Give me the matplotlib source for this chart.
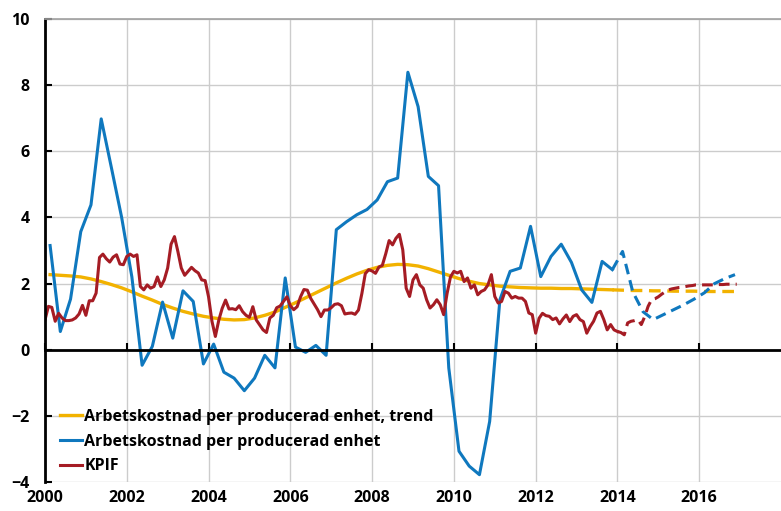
import numpy as np
import matplotlib
matplotlib.use('Agg')
import matplotlib.pyplot as plt

plt.rcParams['font.family'] = ['Open Sans', 'DejaVu Sans']
plt.rcParams['font.weight'] = 'bold'

# Arbetskostnad per producerad enhet (kvartal), utfall och prognos
alp = [3.15, 0.55, 1.53, 3.57,
       4.38, 6.98, 5.5, 4.0,
       2.2, -0.47, 0.1, 1.44,
       0.35, 1.78, 1.46, -0.43,
       0.17, -0.68, -0.86, -1.24,
       -0.86, -0.17, -0.55, 2.17,
       0.08, -0.08, 0.13, -0.17,
       3.63, 3.87, 4.08, 4.24,
       4.53, 5.08, 5.19, 8.39,
       7.35, 5.24, 4.96, -0.55,
       -3.07, -3.52, -3.78, -2.17,
       1.51, 2.37, 2.47, 3.73,
       2.21, 2.82, 3.19, 2.64,
       1.81, 1.43, 2.67, 2.42]
alp_prognos = [2.42, 2.97, 1.75, 1.15, 0.91, 1.06, 1.21, 1.36, 1.53,
               1.72, 2.0, 2.15, 2.27]

# Trend (kvartal)
trend = [2.27, 2.25, 2.23, 2.2,
         2.14, 2.06, 1.97, 1.87,
         1.75, 1.62, 1.5, 1.37,
         1.26, 1.16, 1.08, 1.01,
         0.96, 0.92, 0.9, 0.91,
         0.96, 1.04, 1.14, 1.28,
         1.42, 1.57, 1.72, 1.87,
         2.02, 2.16, 2.29, 2.4,
         2.49, 2.55, 2.58, 2.57,
         2.53, 2.45, 2.35, 2.25,
         2.15, 2.07, 2.0, 1.96,
         1.92, 1.9, 1.88, 1.87,
         1.86, 1.86, 1.85, 1.85,
         1.84, 1.83, 1.82, 1.81]
trend_prognos = [1.81, 1.8, 1.79, 1.79, 1.78, 1.78, 1.77, 1.77, 1.77,
                 1.76, 1.76, 1.76, 1.76]

# KPIF (månad), jan 2000 - jan 2014, sedan prognos
kpif = [0.9, 1.31, 1.28, 0.86, 1.1, 0.96, 0.88, 0.88, 0.9, 0.96, 1.08, 1.34,
        1.04, 1.48, 1.48, 1.71, 2.79, 2.89, 2.75, 2.65, 2.8, 2.87, 2.59, 2.57,
        2.82, 2.89, 2.82, 2.87, 1.91, 1.81, 1.96, 1.86, 1.91, 2.2, 1.91, 2.11,
        2.47, 3.19, 3.42, 2.97, 2.47, 2.25, 2.37, 2.49, 2.39, 2.32, 2.11, 2.09,
        1.6, 0.86, 0.4, 0.89, 1.25, 1.5, 1.23, 1.24, 1.21, 1.33, 1.15, 1.04,
        0.98, 1.3, 0.9, 0.75, 0.6, 0.52, 0.96, 1.04, 1.27, 1.32, 1.46, 1.6,
        1.33, 1.21, 1.3, 1.6, 1.82, 1.8, 1.55, 1.38, 1.21, 1.0, 1.2, 1.2,
        1.27, 1.37, 1.39, 1.33, 1.08, 1.1, 1.11, 1.07, 1.2, 1.7, 2.3, 2.42,
        2.38, 2.31, 2.5, 2.55, 2.9, 3.3, 3.17, 3.37, 3.49, 3.02, 1.86, 1.61,
        2.11, 2.27, 1.96, 1.86, 1.51, 1.26, 1.36, 1.51, 1.36, 1.06, 1.7, 2.2,
        2.37, 2.32, 2.37, 2.06, 2.17, 1.86, 1.96, 1.66, 1.76, 1.81, 1.96, 2.27,
        1.61, 1.41, 1.46, 1.76, 1.71, 1.56, 1.61, 1.56, 1.56, 1.46, 1.11, 1.06,
        0.5, 0.95, 1.1, 1.03, 1.01, 0.91, 0.96, 0.78, 0.93, 1.05, 0.85, 1.01,
        1.06, 0.91, 0.85, 0.5, 0.7, 0.86, 1.11, 1.16, 0.91, 0.6, 0.76, 0.6,
        0.55]
kpif_prognos = [0.55, 0.52, 0.45, 0.81, 0.86, 0.88, 0.91, 0.76, 1.0, 1.31,
                1.51, 1.54, 1.6, 1.68, 1.75, 1.81, 1.84, 1.86, 1.88, 1.89,
                1.91, 1.93, 1.94, 1.96, 1.96, 1.96, 1.96, 1.96, 1.96, 1.97,
                1.97, 1.97, 1.98, 1.98, 1.98, 1.98]

ar = [2000, 2002, 2004, 2006, 2008, 2010, 2012, 2014, 2016]

# tidsaxlar i decimalår
q_x = 2000.125 + 0.25 * np.arange(len(alp))
q_px = q_x[-1] + 0.25 * np.arange(len(alp_prognos))
m_x = 2000 + np.arange(len(kpif)) / 12
m_px = m_x[-1] + np.arange(len(kpif_prognos)) / 12

orange = '#F2B200'
blue = '#0F78BE'
red = '#A51C24'

fig = plt.figure(figsize=(7.81, 5.11), dpi=100)
ax = fig.add_axes([0.0576, 0.0568, 0.9424, 0.906])

ax.plot(q_x, trend, color=orange, lw=2.4, label='Arbetskostnad per producerad enhet, trend')
ax.plot(q_px, trend_prognos, color=orange, lw=2.4, dashes=(3.5, 2))
ax.plot(q_x, alp, color=blue, lw=2.2, label='Arbetskostnad per producerad enhet')
ax.plot(q_px, alp_prognos, color=blue, lw=2.2, dashes=(3.5, 2))
ax.plot(m_x, kpif, color=red, lw=2.2, label='KPIF')
ax.plot(m_px, kpif_prognos, color=red, lw=2.2, dashes=(3.5, 2))

ax.set_xlim(2000, 2018)
ax.set_ylim(-4, 10)
ax.set_yticks(range(-4, 11, 2))
ax.set_xticks(ar)
ax.grid(True, color='#cccccc', lw=1.0)
ax.set_axisbelow(True)

ax.spines['right'].set_visible(False)
ax.spines['top'].set_color('#a0a0a0')
ax.spines['top'].set_linewidth(1.2)
ax.spines['left'].set_linewidth(2)
ax.spines['bottom'].set_position(('data', 0))
ax.spines['bottom'].set_linewidth(2)
ax.tick_params(axis='y', direction='in', length=5, width=1.5, pad=11, labelsize=11.5)
ax.tick_params(axis='x', direction='in', length=5, width=1.5, labelbottom=False)

sec = ax.secondary_xaxis(0)
sec.set_xticks(ar)
sec.tick_params(length=0, pad=6, labelsize=11.5)
sec.spines['bottom'].set_visible(False)

ax.legend(loc='upper left', bbox_to_anchor=(0.02, 0.158), frameon=False,
          fontsize=11.5, handlelength=1.4, handletextpad=0.15,
          labelspacing=0.55, borderaxespad=0, borderpad=0)

fig.savefig('out.png', dpi=100)
